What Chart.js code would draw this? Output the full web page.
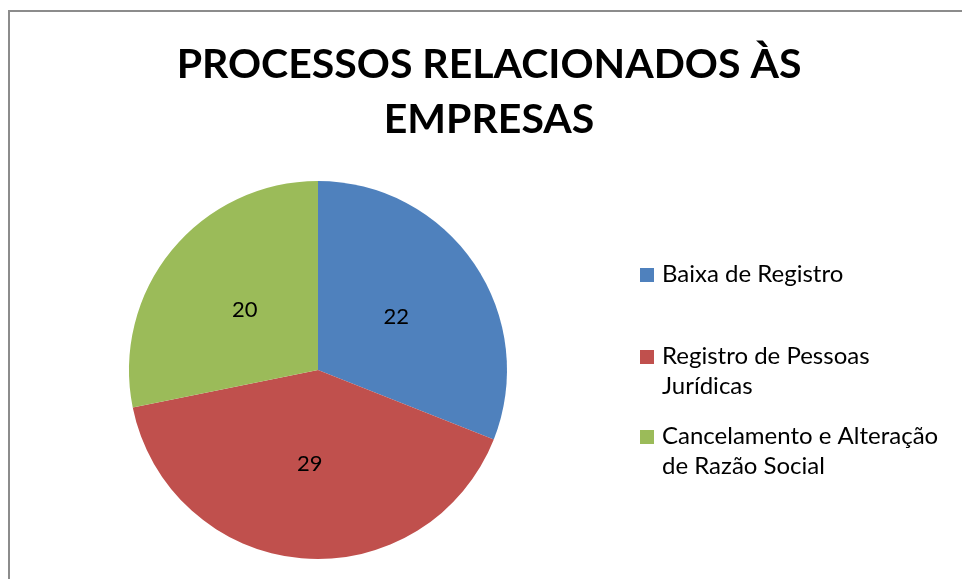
<!DOCTYPE html>
<html>
<head>
<meta charset="utf-8">
<title>Processos relacionados às empresas</title>
<script src="https://cdn.jsdelivr.net/npm/chart.js@4.4.1/dist/chart.umd.min.js"></script>
<style>
	body { margin: 0; background: #fff; }
	#wrap { position: relative; width: 962px; height: 579px; overflow: hidden; }
	#frame {
		position: absolute; left: 8px; top: 10px; width: 1000px; height: 700px;
		border-top: 2px solid #8c8c8c; border-left: 2px solid #8c8c8c;
		pointer-events: none;
	}
</style>
</head>
<body>
<div id="wrap">
	<canvas id="chart_one" width="962" height="579"></canvas>
	<div id="frame"></div>
</div>
<script>
var titleLines = ["PROCESSOS RELACIONADOS ÀS", "EMPRESAS"]
var categories = ["Baixa de Registro", "Registro de Pessoas Jurídicas", "Cancelamento e Alteração de Razão Social"]
var processCounts = [22, 29, 20]
var sliceColors = ["#4F81BD", "#C0504D", "#9BBB59"]

// split a legend label into lines that fit the given width
var wrapText = (ctx, text, maxWidth) => {
	var words = text.split(" ")
	var lines = []
	var line = ""
	words.forEach((w) => {
		var test = line ? line + " " + w : w
		if (ctx.measureText(test).width > maxWidth && line) {
			lines.push(line)
			line = w
		} else {
			line = test
		}
	})
	if (line) lines.push(line)
	return lines
}

// title, value labels and the legend, drawn the way the original chart shows them
var decorations = {
	id: "decorations",
	afterDraw: (chart) => {
		var ctx = chart.ctx
		ctx.save()
		ctx.fillStyle = "#000"

		// title
		ctx.font = "bold 41px Lato"
		ctx.textAlign = "center"
		ctx.textBaseline = "alphabetic"
		titleLines.forEach((t, i) => {
			ctx.fillText(t, 489, 78 + i * 55)
		})

		// values inside slices
		ctx.font = "22px Lato"
		ctx.textBaseline = "middle"
		chart.getDatasetMeta(0).data.forEach((arc, i) => {
			var p = arc.tooltipPosition()
			ctx.fillText(String(processCounts[i]), p.x, p.y)
		})

		// legend
		ctx.font = "24px Lato"
		ctx.textAlign = "left"
		ctx.textBaseline = "alphabetic"
		var firstBaselines = [282, 364, 444]
		categories.forEach((label, i) => {
			var y = firstBaselines[i]
			ctx.fillStyle = sliceColors[i]
			ctx.fillRect(640, y - 14, 14, 14)
			ctx.fillStyle = "#000"
			wrapText(ctx, label, 292).forEach((line, j) => {
				ctx.fillText(line, 662, y + j * 30)
			})
		})
		ctx.restore()
	}
}

var ctx_one = document.getElementById("chart_one").getContext("2d")

var chart_one = new Chart(ctx_one, {
	type: "pie",
	data: {
		labels: categories,
		datasets: [
			{
				label: "Processos",
				data: processCounts,
				backgroundColor: sliceColors,
				borderWidth: 0
			}
		]
	},
	options: {
		responsive: false,
		animation: false,
		layout: {
			padding: { left: 129, right: 455, top: 181, bottom: 20 }
		},
		plugins: {
			legend: { display: false },
			title: { display: false },
			tooltip: { enabled: false }
		}
	},
	plugins: [decorations]
})
</script>
</body>
</html>
